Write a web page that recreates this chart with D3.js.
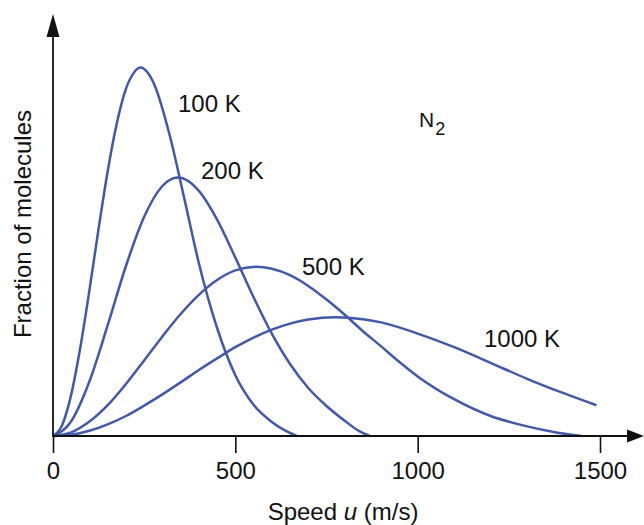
<!DOCTYPE html>
<html>
<head>
<meta charset="utf-8">
<script src="https://cdn.jsdelivr.net/npm/d3@7"></script>
<style>
  body { margin: 0; background: #fff; }
  svg { display: block; font-family: "Liberation Sans", Arial, sans-serif; }
</style>
</head>
<body>
<svg id="chart" width="644" height="525"></svg>
<script>
// Speed distributions for N2 (relative units)
const temps = [100, 200, 500, 1000];

const speed100 = [0, 25, 50, 75, 100, 125, 150, 175, 200, 220, 240, 260, 280, 320, 360, 400, 450, 500, 550, 600, 640, 668];
const frac100  = [0, 0.027, 0.104, 0.222, 0.365, 0.518, 0.662, 0.782, 0.868, 0.906, 0.921, 0.908, 0.874, 0.752, 0.594, 0.432, 0.27, 0.152, 0.078, 0.035, 0.012, 0];

const speed200 = [0, 50, 100, 150, 200, 250, 300, 343, 400, 450, 500, 550, 600, 650, 700, 750, 800, 840, 868];
const frac200  = [0, 0.037, 0.137, 0.277, 0.425, 0.548, 0.625, 0.646, 0.613, 0.541, 0.446, 0.347, 0.256, 0.18, 0.12, 0.075, 0.038, 0.012, 0];

const speed500 = [0, 50, 100, 150, 200, 250, 300, 350, 400, 450, 500, 558, 600, 650, 700, 750, 800, 850, 900, 950, 1000, 1100, 1200, 1300, 1380, 1449];
const frac500  = [0, 0.009, 0.036, 0.077, 0.13, 0.189, 0.249, 0.305, 0.353, 0.39, 0.414, 0.423, 0.418, 0.402, 0.375, 0.341, 0.303, 0.262, 0.224, 0.185, 0.149, 0.092, 0.05, 0.024, 0.009, 0];

const speed1000 = [0, 50, 100, 150, 200, 250, 300, 350, 400, 450, 500, 550, 600, 650, 700, 775, 850, 900, 1000, 1100, 1200, 1300, 1400, 1490];
const frac1000  = [0, 0.003, 0.013, 0.029, 0.05, 0.076, 0.104, 0.134, 0.165, 0.194, 0.222, 0.246, 0.266, 0.281, 0.291, 0.297, 0.292, 0.284, 0.256, 0.222, 0.183, 0.143, 0.107, 0.077];

const xTicks = [0, 500, 1000, 1500];

const series = [
  {t: temps[0], speed: speed100, frac: frac100},
  {t: temps[1], speed: speed200, frac: frac200},
  {t: temps[2], speed: speed500, frac: frac500},
  {t: temps[3], speed: speed1000, frac: frac1000}
];

const svg = d3.select("#chart");
const blue = "#4258a8";
const ink = "#111";

const x = d3.scaleLinear().domain([0, 1500]).range([53, 600]);
const y = d3.scaleLinear().domain([0, 1]).range([436, 36]);

// curves
const line = d3.line()
  .x(d => x(d[0]))
  .y(d => y(d[1]))
  .curve(d3.curveMonotoneX);

svg.append("g")
  .selectAll("path")
  .data(series)
  .enter().append("path")
  .attr("d", s => line(s.speed.map((v, i) => [v, s.frac[i]])))
  .attr("fill", "none")
  .attr("stroke", blue)
  .attr("stroke-width", 2.5);

// x axis with ticks, no domain path (drawn by hand with arrow)
const xAxis = svg.append("g")
  .attr("transform", `translate(0,${y(0)})`)
  .call(d3.axisBottom(x).tickValues(xTicks).tickSize(17).tickPadding(9).tickFormat(d3.format("d")));
xAxis.select(".domain").remove();
xAxis.selectAll(".tick line").attr("stroke", ink).attr("stroke-width", 1.6);
xAxis.selectAll(".tick text")
  .attr("fill", ink)
  .style("font-size", "24px")
  .style("font-family", "'Liberation Sans', Arial, sans-serif");

// axis lines + arrowheads
svg.append("line")
  .attr("x1", x(0)).attr("y1", y(0))
  .attr("x2", 630).attr("y2", y(0))
  .attr("stroke", ink).attr("stroke-width", 1.8);
svg.append("path")
  .attr("d", `M644,${y(0)} L627,${y(0) - 6.5} L627,${y(0) + 6.5} Z`)
  .attr("fill", ink);

svg.append("line")
  .attr("x1", x(0)).attr("y1", y(0) + 1)
  .attr("x2", x(0)).attr("y2", 34)
  .attr("stroke", ink).attr("stroke-width", 1.8);
svg.append("path")
  .attr("d", `M${x(0)},14 L${x(0) - 6.5},37 L${x(0) + 6.5},37 Z`)
  .attr("fill", ink);

// axis titles
const title = svg.append("text")
  .attr("x", 343).attr("y", 520)
  .attr("text-anchor", "middle")
  .attr("fill", ink)
  .style("font-size", "24px");
title.append("tspan").text("Speed ");
title.append("tspan").style("font-style", "italic").text("u");
title.append("tspan").text(" (m/s)");

svg.append("text")
  .attr("transform", "translate(31,224) rotate(-90)")
  .attr("text-anchor", "middle")
  .attr("fill", ink)
  .style("font-size", "24px")
  .text("Fraction of molecules");

// curve labels
const labelPos = [[178, 112], [201, 179], [302, 275], [484, 347]];
svg.append("g")
  .selectAll("text")
  .data(series)
  .enter().append("text")
  .attr("x", (d, i) => labelPos[i][0])
  .attr("y", (d, i) => labelPos[i][1])
  .attr("fill", ink)
  .style("font-size", "24px")
  .text(d => d.t + " K");

// gas label
const gas = svg.append("text")
  .attr("x", 419).attr("y", 127)
  .attr("fill", ink)
  .style("font-size", "21px");
gas.append("tspan").text("N");
gas.append("tspan").attr("dy", 8).attr("dx", 1).style("font-size", "18px").text("2");
</script>
</body>
</html>
